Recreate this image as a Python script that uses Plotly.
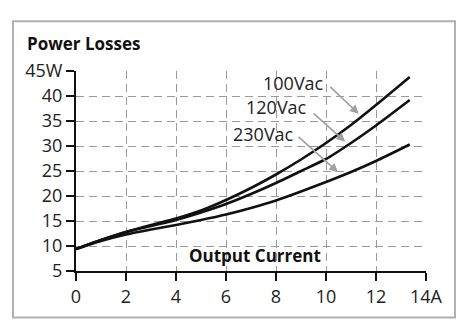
import numpy as np
import plotly.graph_objects as go

# Output current (A) and power losses (W) per input voltage
current = [0, 1, 2, 3, 4, 5, 6, 7, 8, 9, 10, 11, 12, 13.35]
loss_100vac = [9.4, 11.2, 12.8, 14.2, 15.5, 17.1, 19.2, 21.6, 24.3, 27.3, 30.6, 34.2, 38.2, 43.8]
loss_120vac = [9.4, 11.2, 12.8, 14.0, 15.2, 16.7, 18.4, 20.4, 22.6, 25.0, 27.4, 30.6, 34.1, 39.2]
loss_230vac = [9.4, 11.0, 12.3, 13.3, 14.2, 15.2, 16.3, 17.6, 19.1, 20.9, 22.8, 24.8, 27.0, 30.3]
series_names = ["100Vac", "120Vac", "230Vac"]

x_ticks = [0, 2, 4, 6, 8, 10, 12, 14]
x_ticktext = ["0", "2", "4", "6", "8", "10", "12", "14A"]
y_ticks = [5, 10, 15, 20, 25, 30, 35, 40, 45]
y_ticktext = ["5", "10", "15", "20", "25", "30", "35", "40", "45W"]

FONT = "Open Sans"
GRID = "#9a9a9a"

fig = go.Figure()
for name, ys in zip(series_names, [loss_100vac, loss_120vac, loss_230vac]):
    fig.add_trace(go.Scatter(
        x=current, y=ys, name=name, mode="lines",
        line=dict(color="#111111", width=2.6, shape="spline", smoothing=0.6),
        showlegend=False, hoverinfo="skip",
    ))

# label text centre, arrow tail and arrow target x for each curve
label_pos = {"100Vac": (8.71, 42.6), "120Vac": (8.02, 37.8), "230Vac": (7.48, 32.5)}
arrow_tail = {"100Vac": (10.11, 42.1), "120Vac": (9.44, 36.8), "230Vac": (8.84, 32.1)}
arrow_tip_x = {"100Vac": 11.31, "120Vac": 10.77, "230Vac": 10.48}

annotations = []
for name, ys in zip(series_names, [loss_100vac, loss_120vac, loss_230vac]):
    tx = arrow_tip_x[name]
    ty = float(np.interp(tx, current, ys)) + 1.0
    ax_, ay_ = arrow_tail[name]
    annotations.append(dict(
        x=tx, y=ty, ax=ax_, ay=ay_, xref="x", yref="y", axref="x", ayref="y",
        text="", showarrow=True, arrowhead=2, arrowsize=1.1, arrowwidth=1.6,
        arrowcolor="#a0a0a0",
    ))
    lx, ly = label_pos[name]
    annotations.append(dict(
        x=lx, y=ly, xref="x", yref="y", text=name, showarrow=False,
        font=dict(family=FONT, size=18, color="#222222"),
        xanchor="center", yanchor="middle",
    ))

annotations.append(dict(
    x=-0.146, y=1.136, xref="paper", yref="paper", text="<b>Power Losses</b>",
    showarrow=False, xanchor="left", yanchor="middle",
    font=dict(family=FONT, size=17, color="#111111"),
))
annotations.append(dict(
    x=7.16, y=8.1, xref="x", yref="y", text="<b>Output Current</b>",
    showarrow=False, xanchor="center", yanchor="middle",
    font=dict(family=FONT, size=17, color="#111111"),
))

fig.update_layout(
    width=464, height=320,
    margin=dict(l=76, r=38, t=71, b=49),
    paper_bgcolor="white", plot_bgcolor="white",
    font=dict(family=FONT, size=18, color="#222222"),
    annotations=annotations,
    shapes=[dict(
        type="rect", xref="paper", yref="paper",
        x0=-0.18, x1=1.083, y0=-0.232, y1=1.249,
        line=dict(color="#b0b0b0", width=2), fillcolor="rgba(0,0,0,0)", layer="below",
    )],
)
fig.update_xaxes(
    range=[0, 14], tickvals=x_ticks, ticktext=x_ticktext,
    showgrid=True, gridcolor=GRID, gridwidth=1.4, griddash="8px,5px",
    showline=True, linecolor="#111111", linewidth=2,
    ticks="outside", ticklen=8, tickwidth=2, tickcolor="#111111",
    zeroline=False, fixedrange=True,
)
fig.update_yaxes(
    range=[5, 45], tickvals=y_ticks, ticktext=y_ticktext,
    showgrid=True, gridcolor=GRID, gridwidth=1.4, griddash="8px,5px",
    showline=True, linecolor="#111111", linewidth=2,
    ticks="outside", ticklen=8, tickwidth=2, tickcolor="#111111",
    zeroline=False, fixedrange=True,
)

fig.write_html("out.html")
